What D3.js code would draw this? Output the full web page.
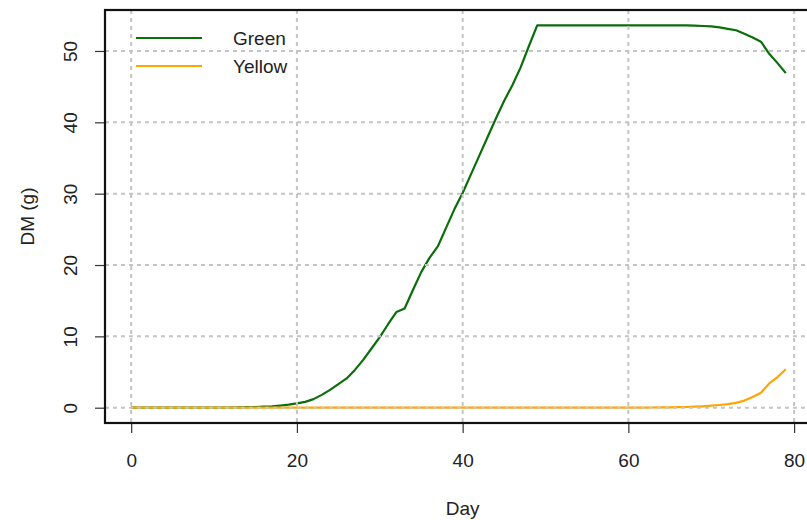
<!DOCTYPE html>
<html>
<head>
<meta charset="utf-8">
<script src="https://cdn.jsdelivr.net/npm/d3@7"></script>
<style>
  html, body { margin: 0; padding: 0; background: #fff; }
  svg { display: block; font-family: "Liberation Sans", Arial, Helvetica, sans-serif; }
</style>
</head>
<body>
<svg id="chart" width="807" height="520"></svg>
<script>
// ---- data ----
const days = d3.range(0, 80);
const green = [
  0.0, 0.0, 0.0, 0.0, 0.0, 0.0, 0.0, 0.0, 0.0, 0.0,
  0.01, 0.02, 0.03, 0.05, 0.07, 0.1, 0.14, 0.2, 0.3, 0.42,
  0.6, 0.82, 1.2, 1.8, 2.5, 3.3, 4.1, 5.3, 6.7, 8.3,
  9.9, 11.7, 13.4, 13.9, 16.5, 19.0, 21.0, 22.6, 25.2, 27.8,
  30.1, 32.7, 35.3, 37.9, 40.5, 43.0, 45.2, 47.7, 50.7, 53.6,
  53.6, 53.6, 53.6, 53.6, 53.6, 53.6, 53.6, 53.6, 53.6, 53.6,
  53.6, 53.6, 53.6, 53.6, 53.6, 53.6, 53.6, 53.6, 53.55, 53.5,
  53.45, 53.3, 53.1, 52.9, 52.4, 51.9, 51.3, 49.6, 48.3, 46.9
];
const yellow = [
  0, 0, 0, 0, 0, 0, 0, 0, 0, 0,
  0, 0, 0, 0, 0, 0, 0, 0, 0, 0,
  0, 0, 0, 0, 0, 0, 0, 0, 0, 0,
  0, 0, 0, 0, 0, 0, 0, 0, 0, 0,
  0, 0, 0, 0, 0, 0, 0, 0, 0, 0,
  0, 0, 0, 0, 0, 0, 0, 0, 0, 0.01,
  0.01, 0.02, 0.02, 0.03, 0.04, 0.05, 0.07, 0.1, 0.14, 0.2,
  0.28, 0.38, 0.5, 0.68, 1.0, 1.5, 2.1, 3.4, 4.3, 5.4
];
const xTicks = [0, 20, 40, 60, 80];
const yTicks = [0, 10, 20, 30, 40, 50];
const seriesNames = ["Green", "Yellow"];
const seriesColors = ["#0a6e0a", "#ffa500"];

// ---- layout ----
const FS = 19;
const svg = d3.select("#chart");
const box = { left: 105, top: 10, bottom: 423, right: 812 };

const xExt = [0 - 0.04 * 79, 79 + 0.04 * 79];
const yMax = d3.max(green.concat(yellow));
const yExt = [0 - 0.04 * yMax, yMax + 0.04 * yMax];

const x = d3.scaleLinear().domain(xExt).range([box.left, box.right]);
const y = d3.scaleLinear().domain(yExt).range([box.bottom, box.top]);

// lines
const line = d3.line().x((d, i) => x(days[i])).y(d => y(d));
[green, yellow].forEach((s, k) => {
  svg.append("path").datum(s)
    .attr("d", line)
    .attr("fill", "none")
    .attr("stroke", seriesColors[k])
    .attr("stroke-width", 2.2)
    .attr("stroke-linejoin", "round");
});

// grid (drawn on top, as in R grid())
const grid = svg.append("g")
  .attr("stroke", "#c4c4c4")
  .attr("stroke-width", 2)
  .attr("stroke-dasharray", "4,4");
xTicks.forEach(t => {
  grid.append("line")
    .attr("x1", x(t)).attr("x2", x(t))
    .attr("y1", box.top).attr("y2", box.bottom);
});
yTicks.forEach(t => {
  grid.append("line")
    .attr("x1", box.left).attr("x2", box.right)
    .attr("y1", y(t)).attr("y2", y(t));
});

// axes
const xAxis = d3.axisBottom(x).tickValues(xTicks).tickSize(10).tickFormat(d3.format("d"));
const gx = svg.append("g").attr("transform", `translate(0,${box.bottom})`).call(xAxis);
gx.select(".domain").remove();
gx.selectAll(".tick line").attr("stroke", "#333").attr("stroke-width", 1.2);
gx.selectAll(".tick text").attr("font-size", FS).attr("fill", "#222")
  .attr("font-family", "Liberation Sans, Arial, sans-serif")
  .attr("y", 37).attr("dy", null)
  .attr("dominant-baseline", "central");

const yAxis = d3.axisLeft(y).tickValues(yTicks).tickSize(10).tickFormat(d3.format("d"));
const gy = svg.append("g").attr("transform", `translate(${box.left},0)`).call(yAxis);
gy.select(".domain").remove();
gy.selectAll(".tick line").attr("stroke", "#333").attr("stroke-width", 1.2);
gy.selectAll(".tick text")
  .attr("font-size", FS).attr("fill", "#222")
  .attr("font-family", "Liberation Sans, Arial, sans-serif")
  .attr("text-anchor", "middle")
  .attr("dy", null)
  .attr("x", null)
  .attr("transform", "translate(-35,0) rotate(-90)")
  .attr("dominant-baseline", "central");

// box
svg.append("rect")
  .attr("x", box.left).attr("y", box.top)
  .attr("width", box.right - box.left).attr("height", box.bottom - box.top)
  .attr("fill", "none").attr("stroke", "#111").attr("stroke-width", 2.2);

// axis titles
svg.append("text").attr("x", x(40)).attr("y", 508)
  .attr("text-anchor", "middle").attr("dominant-baseline", "central")
  .attr("font-size", FS).attr("fill", "#222").text("Day");
svg.append("text")
  .attr("transform", `translate(27,${(box.top + box.bottom) / 2}) rotate(-90)`)
  .attr("text-anchor", "middle").attr("dominant-baseline", "central")
  .attr("font-size", FS).attr("fill", "#222").text("DM (g)");

// legend
const legY = [38, 66];
seriesNames.forEach((n, k) => {
  svg.append("line")
    .attr("x1", 136).attr("x2", 202)
    .attr("y1", legY[k]).attr("y2", legY[k])
    .attr("stroke", seriesColors[k]).attr("stroke-width", 2.2);
  svg.append("text")
    .attr("x", 233).attr("y", legY[k])
    .attr("dominant-baseline", "central")
    .attr("font-size", FS).attr("fill", "#222").text(n);
});
</script>
</body>
</html>
